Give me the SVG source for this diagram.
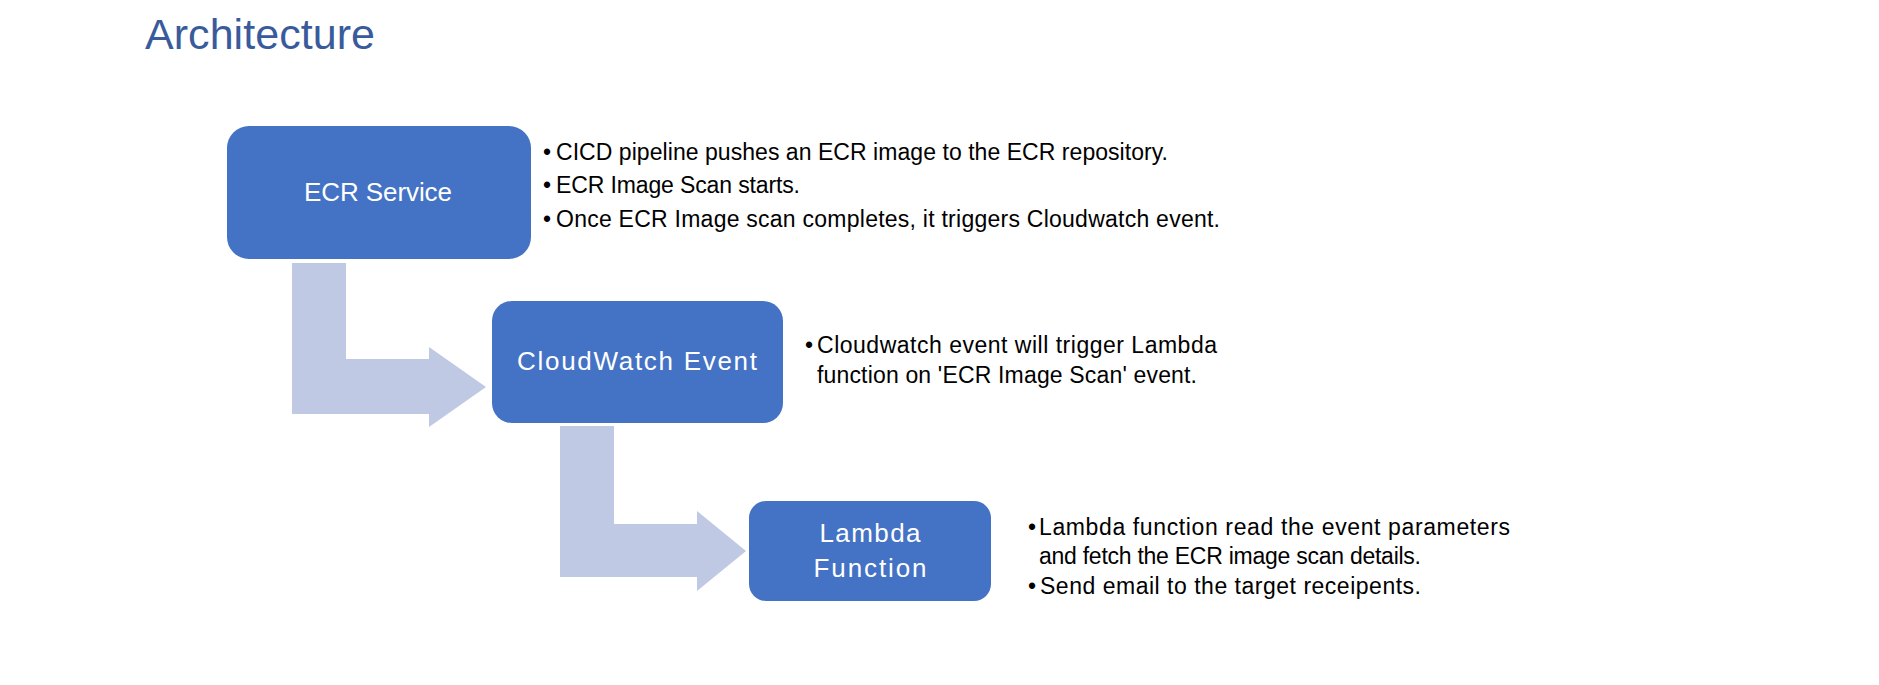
<svg xmlns="http://www.w3.org/2000/svg" width="1879" height="685" viewBox="0 0 1879 685">
<style>
.title{font-family:"Liberation Sans",Arial,sans-serif;font-size:43px;fill:#3A5B9B}
.node{fill:#4472C4}
.nl{font-family:"Liberation Sans",Arial,sans-serif;font-size:26px;fill:#FFFFFF;text-anchor:middle}
.arrow{fill:#BFC9E3}
.body{font-family:"Liberation Sans",Arial,sans-serif;font-size:23px;fill:#000000}
</style>
<rect width="1879" height="685" fill="#FFFFFF"/>
<text class="title" x="145" y="49" textLength="230">Architecture</text>
<g id="connectors">
<polygon class="arrow" points="292,263 346,263 346,359 429,359 429,347 486,387 429,427 429,414 292,414"/>
<polygon class="arrow" points="560,426 614,426 614,524 697,524 697,511 746,551 697,591 697,577 560,577"/>
</g>
<g id="ecr">
<rect class="node" x="227" y="126" width="304" height="133" rx="22" ry="22"/>
<text class="nl" x="378" y="201" textLength="148">ECR Service</text>
<text class="body" x="543" y="160">•</text>
<text class="body" x="556" y="160" textLength="612">CICD pipeline pushes an ECR image to the ECR repository.</text>
<text class="body" x="543" y="193">•</text>
<text class="body" x="556" y="193" textLength="244">ECR Image Scan starts.</text>
<text class="body" x="543" y="227">•</text>
<text class="body" x="556" y="227" textLength="664">Once ECR Image scan completes, it triggers Cloudwatch event.</text>
</g>
<g id="cloudwatch">
<rect class="node" x="492" y="301" width="291" height="122" rx="20" ry="20"/>
<text class="nl" x="637" y="370" textLength="240">CloudWatch Event</text>
<text class="body" x="805" y="353">•</text>
<text class="body" x="817" y="353" textLength="400">Cloudwatch event will trigger Lambda</text>
<text class="body" x="817" y="383" textLength="380">function on 'ECR Image Scan' event.</text>
</g>
<g id="lambda">
<rect class="node" x="749" y="501" width="242" height="100" rx="17" ry="17"/>
<text class="nl" x="870" y="542" textLength="101">Lambda</text>
<text class="nl" x="870" y="577" textLength="113">Function</text>
<text class="body" x="1028" y="535">•</text>
<text class="body" x="1039" y="535" textLength="471">Lambda function read the event parameters</text>
<text class="body" x="1039" y="564" textLength="382">and fetch the ECR image scan details.</text>
<text class="body" x="1028" y="594">•</text>
<text class="body" x="1040" y="594" textLength="381">Send email to the target receipents.</text>
</g>
</svg>
